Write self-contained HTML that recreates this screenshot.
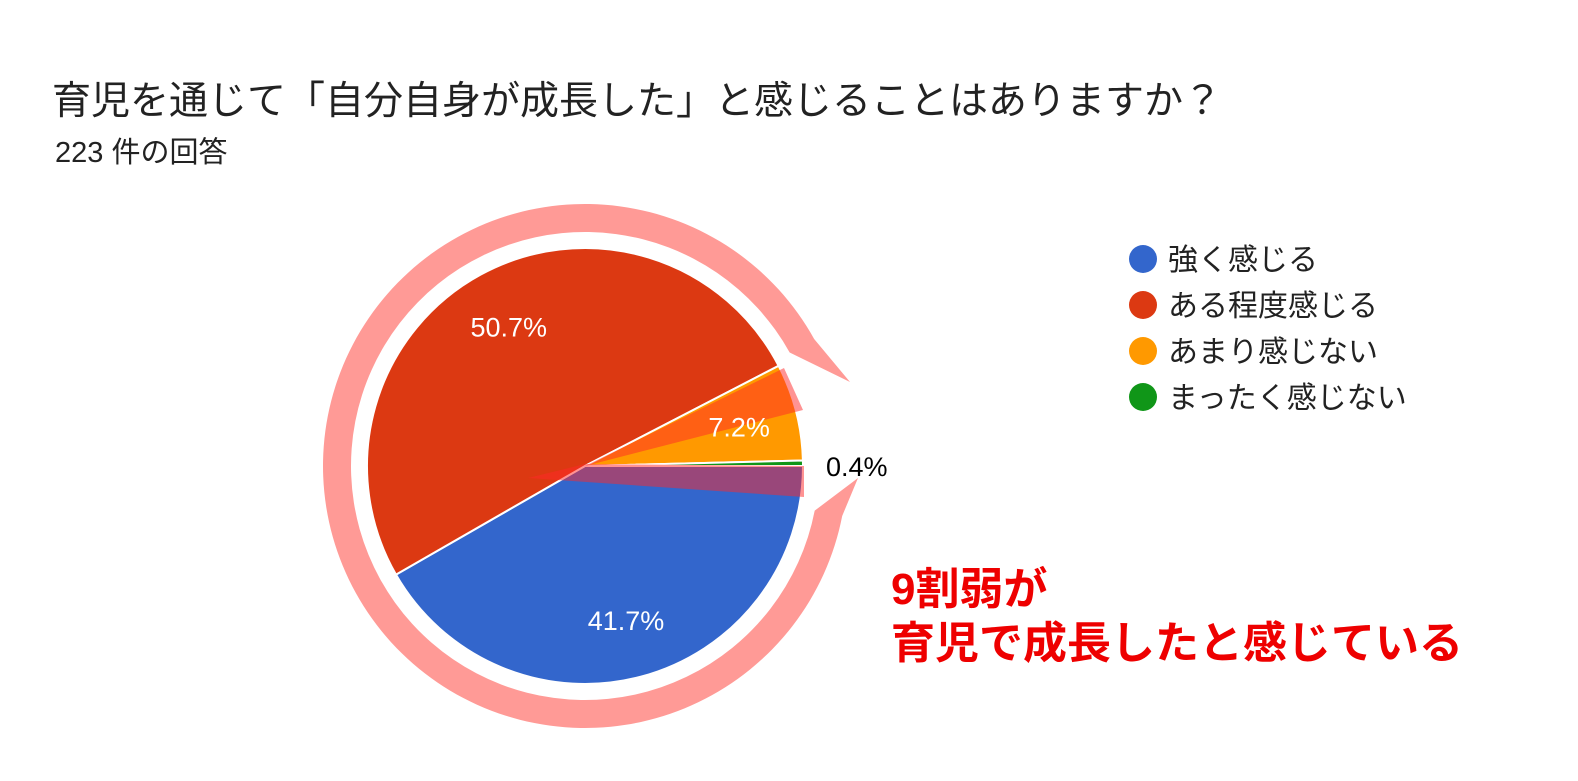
<!DOCTYPE html>
<html><head><meta charset="utf-8">
<style>
body{margin:0;width:1578px;height:776px;background:#fff;overflow:hidden;font-family:"Liberation Sans","Noto Sans CJK JP",sans-serif;}
</style></head><body>
<svg id="chart" width="1578" height="776" xmlns="http://www.w3.org/2000/svg" font-family="Liberation Sans, Noto Sans CJK JP, sans-serif">
<text x="52" y="114" font-size="39" fill="#222">育児を通じて「自分自身が成長した」と感じることはありますか？</text>
<text x="55" y="162" font-size="29" fill="#222">223 件の回答</text>
<g id="pie"></g>
<g id="legend"></g>
<text x="891" y="604" font-size="44" font-weight="bold" fill="#ee0000">9割弱が</text>
<text x="891" y="658" font-size="44" font-weight="bold" fill="#ee0000">育児で成長したと感じている</text>
</svg>
<script>
const categories=["強く感じる","ある程度感じる","あまり感じない","まったく感じない"];
const values=[41.7,50.7,7.2,0.4];
const labels=["41.7%","50.7%","7.2%","0.4%"];
const colors=["#3366cc","#dc3912","#ff9900","#109618"];
const NS="http://www.w3.org/2000/svg";
const cx=585,cy=466,r=218;
const pie=document.getElementById('pie');
function pt(deg,rad){const a=deg*Math.PI/180;return [cx+rad*Math.sin(a),cy-rad*Math.cos(a)];}
const ring=document.createElementNS(NS,'path');


{const R=262,ri=234;const a1=101,a2=61;
const o1=[858,478],o2=[850,382];
const p1=pt(a1,R),p2=pt(a2+360,R),i1=pt(a1,ri),i2=pt(a2,ri);
ring.setAttribute('d',`M${o1} L${p1} A${R},${R} 0 1 1 ${p2} L${o2} L${i2} A${ri},${ri} 0 1 0 ${i1} Z`);}
ring.setAttribute('fill','#ff9a96');
pie.appendChild(ring);
const total=values.reduce((a,b)=>a+b,0);
let start=90;
const labelEls=[];
values.forEach((v,i)=>{
 const sweep=v/total*360,end=start+sweep;
 const p=document.createElementNS(NS,'path');
 
 
 const s=pt(start,r),e=pt(end,r);
 p.setAttribute('d',`M${cx},${cy} L${s} A${r},${r} 0 ${sweep>180?1:0} 1 ${e} Z`);
 p.setAttribute('fill',colors[i]);p.setAttribute('stroke','#fff');p.setAttribute('stroke-width','2');
 pie.appendChild(p);
 const mid=start+sweep/2;
 const t=document.createElementNS(NS,'text');
 
 
 let lp;
 if(v<2){lp=[cx+r+23,cy+10];t.setAttribute('fill','#000');t.setAttribute('text-anchor','start');}
 else{lp=pt(mid,r*0.73);t.setAttribute('fill','#fff');t.setAttribute('text-anchor','middle');lp[1]+=10;}
 t.setAttribute('x',lp[0]);t.setAttribute('y',lp[1]);t.setAttribute('font-size','27');
 t.textContent=labels[i];labelEls.push(t);
 start=end;
});
const ov1=document.createElementNS(NS,'path');


ov1.setAttribute('d','M585,466 L784,368 L803,410 Z');
ov1.setAttribute('fill','rgba(255,40,40,0.5)');
pie.appendChild(ov1);
const ov2=document.createElementNS(NS,'path');


ov2.setAttribute('d','M528,478 L585,464 L804,466 L804,497 Z');
ov2.setAttribute('fill','rgba(255,40,40,0.5)');
pie.appendChild(ov2);
labelEls.forEach(t=>pie.appendChild(t));
const lg=document.getElementById('legend');
categories.forEach((c,i)=>{
 const y=259+i*46;
 const d=document.createElementNS(NS,'circle');
 
 
 d.setAttribute('cx',1143);d.setAttribute('cy',y);d.setAttribute('r',14);d.setAttribute('fill',colors[i]);
 lg.appendChild(d);
 const t=document.createElementNS(NS,'text');
 
 
 t.setAttribute('x',1168);t.setAttribute('y',y+11);t.setAttribute('font-size','30');t.setAttribute('fill','#222');
 t.textContent=c;lg.appendChild(t);
});
</script>
</body></html>
